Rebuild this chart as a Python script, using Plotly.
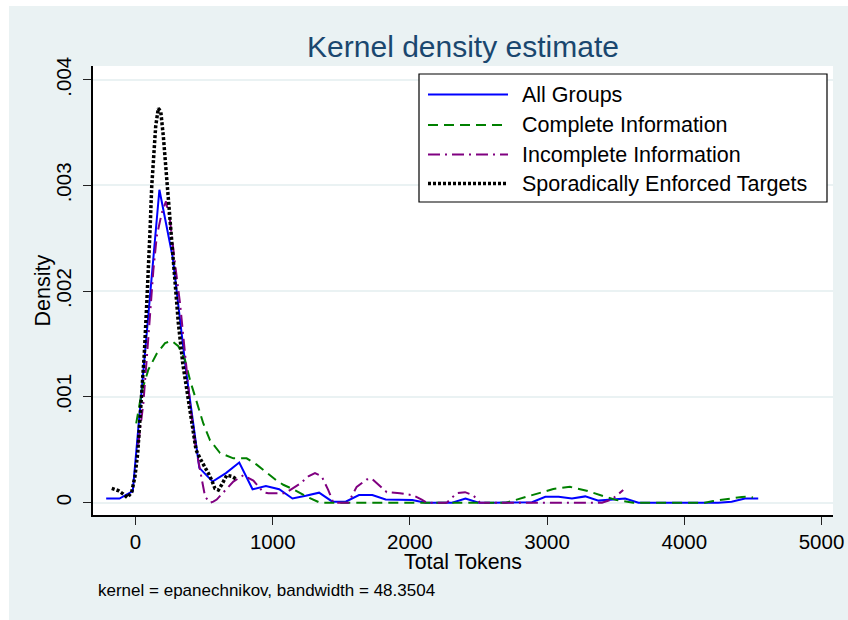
import plotly.graph_objects as go

# ---------------- data ----------------
all_x = [-214, -117, -20, 77, 174, 271, 368, 465, 562, 659, 756, 853, 950, 1047, 1144, 1241,
         1338, 1435, 1532, 1629, 1726, 1823, 1920, 2017, 2114, 2211, 2308, 2405, 2502, 2599,
         2696, 2793, 2890, 2987, 3084, 3181, 3278, 3375, 3472, 3569, 3666, 3763, 3860, 3957,
         4054, 4151, 4248, 4345, 4442, 4539]
all_y = [0.00004, 0.00004, 0.00011, 0.00155, 0.00296, 0.00232, 0.00125, 0.00033, 0.00020,
         0.00028, 0.00038, 0.000127, 0.000158, 0.000127, 0.00004, 0.000066, 0.000095, 0.00001,
         0.00001, 0.000073, 0.000073, 0.00003, 0.000027, 0.000025, 0.0, 0.0, 0.0, 0.00004,
         0.0, 0.0, 0.0, 0.0, 0.000005, 0.000057, 0.000057, 0.00004, 0.00006, 0.00002,
         0.000028, 0.00004, 0.0, 0.0, 0.0, 0.0, 0.0, 0.0, 0.0, 0.00001, 0.00004, 0.00004]

complete_x = [5, 45, 94, 155, 215, 264, 312, 361, 397, 446, 494, 543, 616, 713, 810, 883, 980,
              1029, 1077, 1150, 1248, 1345, 1600, 2000, 2400, 2700, 2754, 2827, 2924, 3045,
              3167, 3288, 3410, 3507, 3628, 3900, 4150, 4211, 4300, 4357, 4420, 4479, 4500]
complete_y = [0.00075, 0.00105, 0.00126, 0.00141, 0.00151, 0.00153, 0.00148, 0.00135, 0.00116,
              0.00094, 0.00075, 0.00059, 0.00047, 0.00042, 0.00042, 0.00036, 0.00026, 0.00021,
              0.00017, 0.000127, 0.000057, 0.0, 0.0, 0.0, 0.0, 0.0, 0.00002, 0.000047, 0.000089,
              0.00013, 0.00015, 0.000114, 0.000063, 0.000025, 0.0, 0.0, 0.0, 0.000016, 0.00003,
              0.00004, 0.000055, 0.000057, 0.00005]

incomplete_x = [20, 57, 94, 130, 155, 191, 222, 251, 288, 324, 361, 397, 434, 470, 507, 543,
                567, 592, 640, 713, 786, 859, 931, 968, 1053, 1090, 1126, 1199, 1260, 1308, 1357,
                1405, 1442, 1551, 1612, 1685, 1721, 1770, 1831, 1928, 2025, 2086, 2122, 2268,
                2341, 2402, 2462, 2511, 2900, 3400, 3470, 3531, 3555]
incomplete_y = [0.00055, 0.00094, 0.00157, 0.0022, 0.00252, 0.00274, 0.00285, 0.00267, 0.00226,
                0.00189, 0.00141, 0.00094, 0.00056, 0.00031, 0.000057, 0.0, 0.00001, 0.00003,
                0.0001, 0.0002, 0.00026, 0.00021, 0.0001, 0.000089, 0.00009, 0.00009, 0.00012,
                0.00018, 0.00025, 0.00028, 0.00025, 0.00012, 0.0, 0.0, 0.00015, 0.00022, 0.00023,
                0.00017, 0.0001, 0.00009, 0.00007, 0.00003, 0.0, 0.0, 0.00009, 0.0001, 0.00007,
                0.0, 0.0, 0.0, 0.00003, 0.0001, 0.00012]

sporadic_x = [-173, -125, -89, -60, -28, -4, 16, 33, 50, 64, 82, 94, 106, 118, 130, 147, 166,
              184, 203, 222, 239, 264, 288, 312, 344, 373, 397, 421, 441, 470, 507, 543, 579,
              604, 628, 665, 701, 725, 740]
sporadic_y = [0.000136, 0.000114, 0.000082, 0.00005, 0.0001, 0.00025, 0.00047, 0.00078, 0.0011,
              0.00141, 0.00189, 0.0022, 0.00258, 0.00299, 0.00324, 0.00356, 0.00373, 0.0037,
              0.00346, 0.00315, 0.00283, 0.00245, 0.00208, 0.0017, 0.00132, 0.00107, 0.00085,
              0.00062, 0.0005, 0.00042, 0.00034, 0.00025, 0.000136, 0.00012, 0.00017, 0.00026,
              0.00025, 0.00023, 0.00022]

series_names = ["All Groups", "Complete Information", "Incomplete Information",
                "Sporadically Enforced Targets"]

x_ticks = [0, 1000, 2000, 3000, 4000, 5000]
x_ticktext = ["0", "1000", "2000", "3000", "4000", "5000"]
y_ticks = [0, 0.001, 0.002, 0.003, 0.004]
y_ticktext = ["0", ".001", ".002", ".003", ".004"]

# ---------------- figure ----------------
FONT = "Liberation Sans, Arial, sans-serif"
W, H = 848, 620
L, R, T, B = 93, 15, 66, 105
PW, PH = W - L - R, H - T - B


def px(xp):
    return (xp - L) / PW


def py(yp):
    return (H - B - yp) / PH


fig = go.Figure()
styles = [
    dict(color="#0000FF", width=2, dash="solid"),
    dict(color="#008000", width=2, dash="10px,6px"),
    dict(color="#800080", width=2, dash="12px,5px,2px,5px"),
    dict(color="#000000", width=3.5, dash="3px,2px"),
]
data = [(all_x, all_y), (complete_x, complete_y), (incomplete_x, incomplete_y),
        (sporadic_x, sporadic_y)]
for (xs, ys), name, st in zip(data, series_names, styles):
    fig.add_trace(go.Scatter(x=xs, y=ys, mode="lines", name=name, line=st,
                             hoverinfo="skip", showlegend=False))

shapes = [
    # white strips of the screenshot border
    dict(type="rect", xref="paper", yref="paper", x0=px(0), x1=px(9), y0=py(H), y1=py(0),
         fillcolor="white", line=dict(width=0), layer="below"),
    dict(type="rect", xref="paper", yref="paper", x0=px(0), x1=px(W), y0=py(6), y1=py(0),
         fillcolor="white", line=dict(width=0), layer="below"),
    # legend box
    dict(type="rect", xref="paper", yref="paper", x0=px(419), x1=px(827), y0=py(202),
         y1=py(74), fillcolor="white", line=dict(color="black", width=1.2), layer="above"),
]

annotations = [
    dict(text="Density", xref="paper", yref="paper", x=px(42.5), y=py(291), textangle=-90,
         showarrow=False, font=dict(family=FONT, size=21.5, color="black"),
         xanchor="center", yanchor="middle"),
    dict(text="Total Tokens", xref="paper", yref="paper", x=px(463), y=py(562),
         showarrow=False, font=dict(family=FONT, size=21.3, color="black"),
         xanchor="center", yanchor="middle"),
    dict(text="kernel = epanechnikov, bandwidth = 48.3504", xref="paper", yref="paper",
         x=px(96), y=py(590), showarrow=False,
         font=dict(family=FONT, size=17, color="black"), xanchor="left", yanchor="middle"),
]

# legend entries (sample line + label)
legend_rows = [94.5, 125, 154.5, 183.5]
for name, st, yr in zip(series_names, styles, legend_rows):
    shapes.append(dict(type="line", xref="paper", yref="paper", x0=px(428), x1=px(508),
                       y0=py(yr), y1=py(yr), layer="above",
                       line=dict(color=st["color"], width=st["width"], dash=st["dash"])))
    annotations.append(dict(text=name, xref="paper", yref="paper", x=px(520), y=py(yr),
                            xanchor="left", yanchor="middle", showarrow=False,
                            font=dict(family=FONT, size=21.5, color="black")))

fig.update_layout(
    width=W, height=H,
    margin=dict(l=L, r=R, t=T, b=B, autoexpand=False),
    paper_bgcolor="#EAF2F3",
    plot_bgcolor="white",
    title=dict(text="Kernel density estimate", x=px(463), xref="paper", xanchor="center",
               y=1 - 46 / H, yref="container", yanchor="middle",
               font=dict(family=FONT, size=30, color="#1A476F")),
    showlegend=False,
    shapes=shapes,
    annotations=annotations,
    xaxis=dict(range=[-310, 5084], tickvals=x_ticks, ticktext=x_ticktext,
               ticks="outside", ticklen=8, tickwidth=1.2, tickcolor="#222",
               showline=True, linecolor="black", linewidth=1.5,
               showgrid=False, zeroline=False,
               tickfont=dict(family=FONT, size=20.5, color="black")),
    yaxis=dict(range=[-0.000116, 0.00413], tickvals=y_ticks, ticktext=y_ticktext,
               tickangle=-90, ticks="outside", ticklen=8, tickwidth=1.2, tickcolor="#222",
               ticklabelstandoff=4,
               showline=True, linecolor="black", linewidth=1.5,
               showgrid=True, gridcolor="#EAF2F3", gridwidth=2, zeroline=False,
               tickfont=dict(family=FONT, size=20.5, color="black")),
)

fig.write_html("out.html")
